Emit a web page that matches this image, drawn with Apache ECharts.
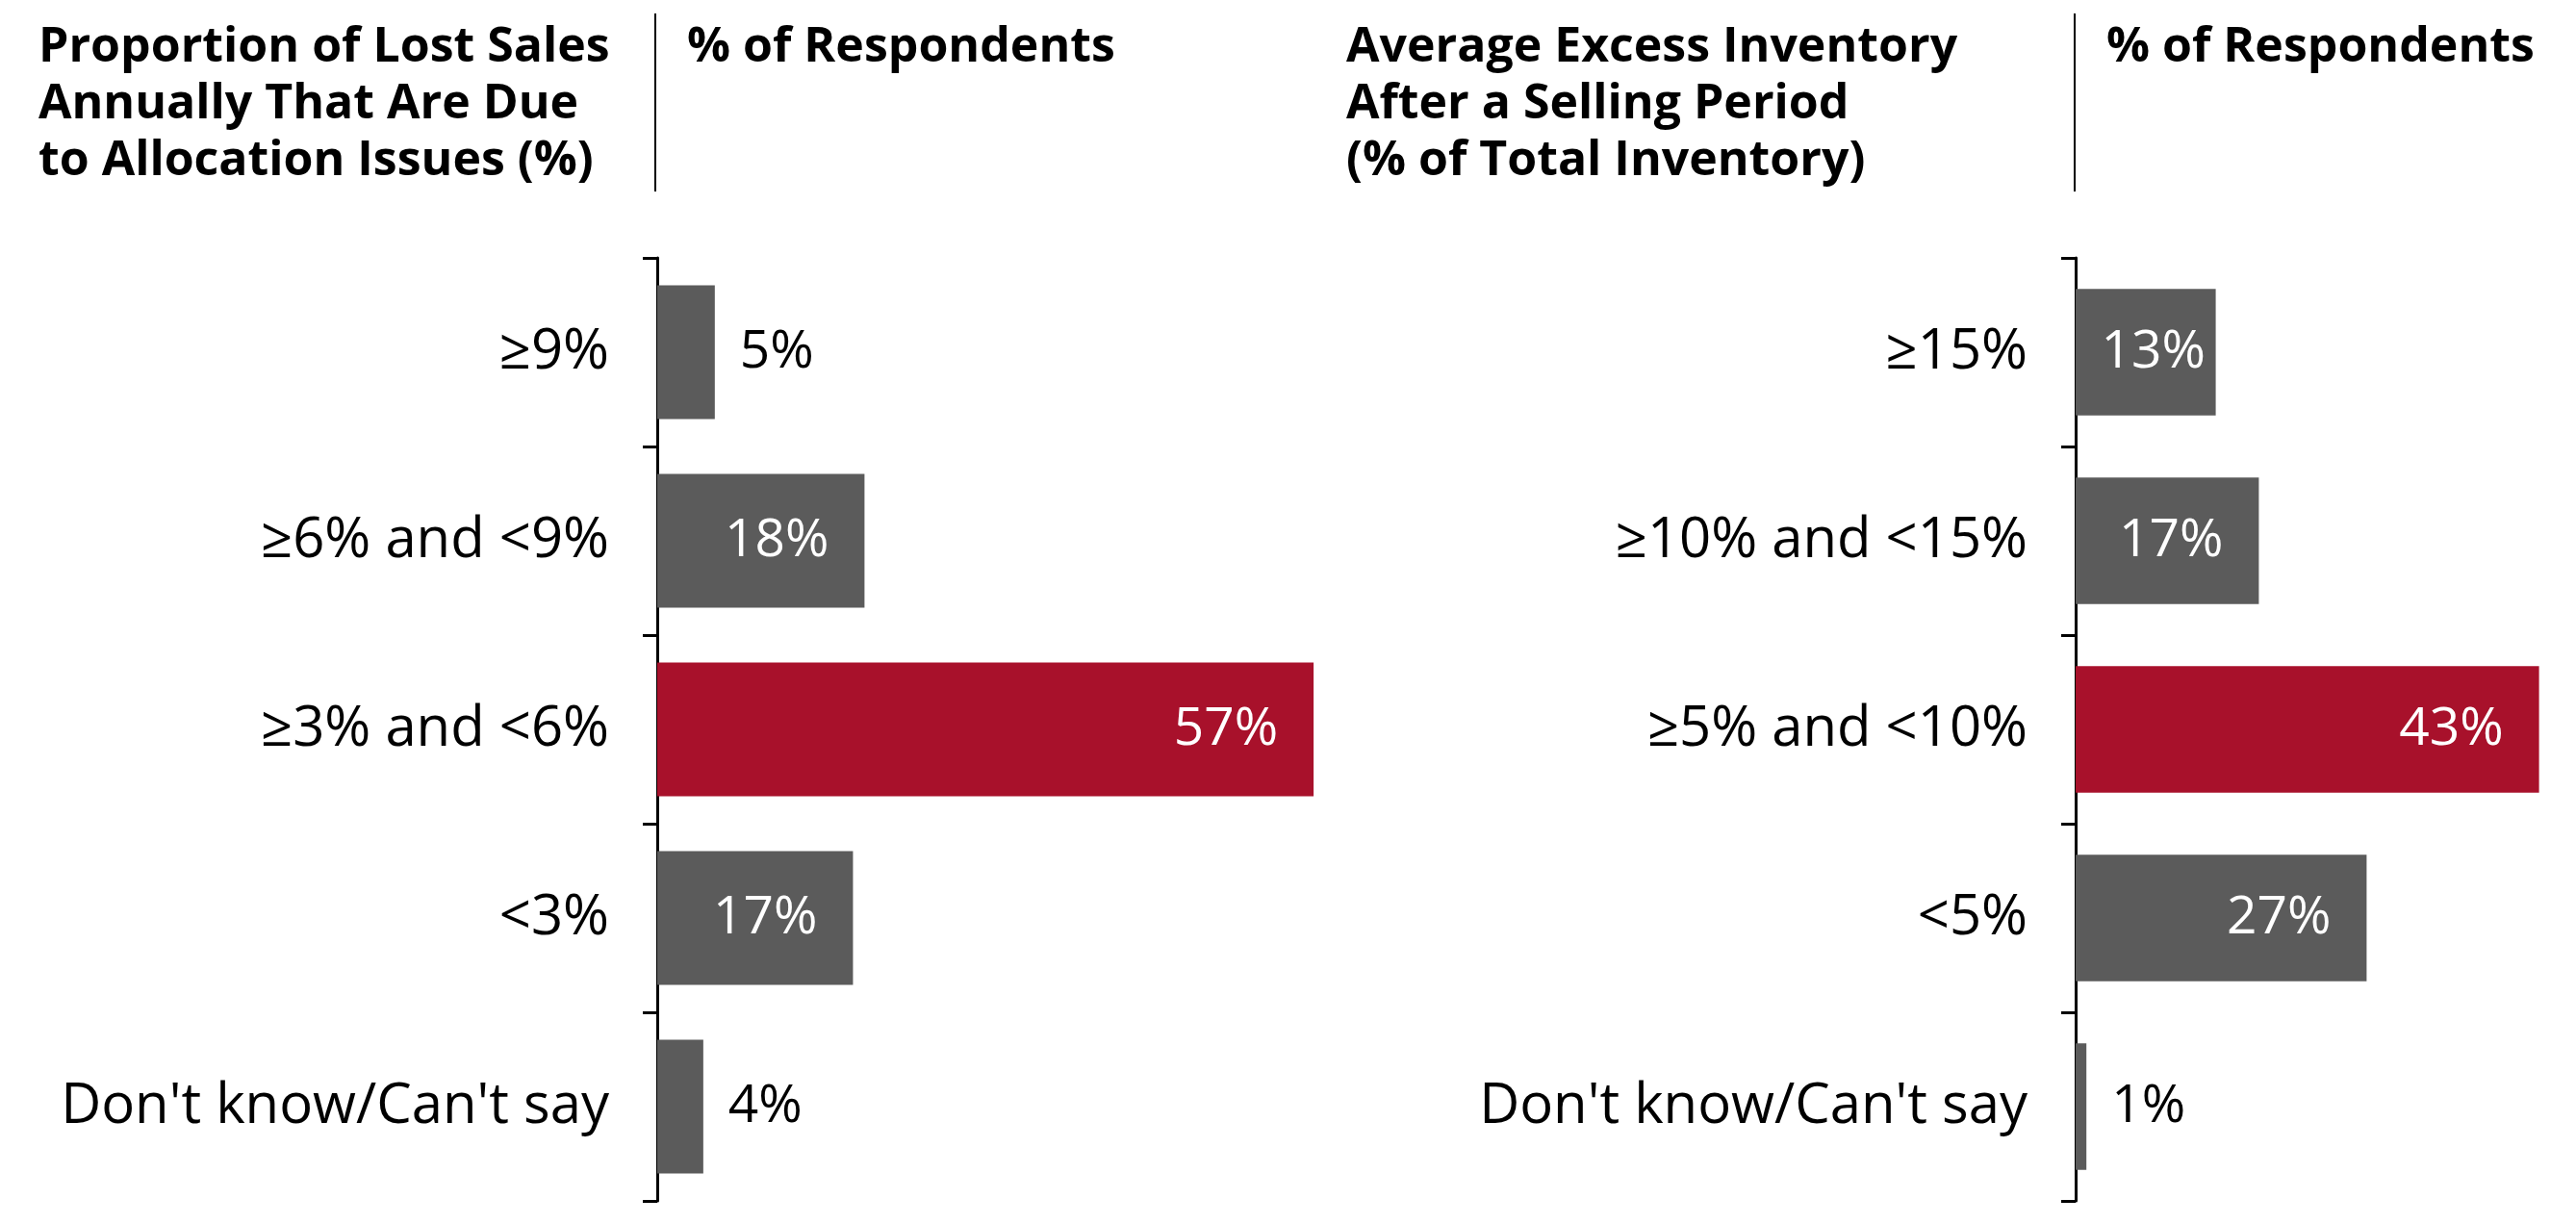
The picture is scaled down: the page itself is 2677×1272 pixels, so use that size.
<!DOCTYPE html>
<html>
<head>
<meta charset="utf-8">
<script src="https://cdn.jsdelivr.net/npm/echarts@6/dist/echarts.min.js"></script>
<style>
html,body{margin:0;padding:0;background:#fff;}
#chart{width:2677px;height:1272px;}
</style>
</head>
<body>
<div id="chart"></div>
<script>
// ---- Data ----
const leftTitle = 'Proportion of Lost Sales\nAnnually That Are Due\nto Allocation Issues (%)';
const rightTitle = 'Average Excess Inventory\nAfter a Selling Period\n(% of Total Inventory)';
const colHeader = '% of Respondents';
const leftCategories = ['≥9%', '≥6% and <9%', '≥3% and <6%', '<3%', "Don't know/Can't say"];
const leftValues = [5, 18, 57, 17, 4];
const rightCategories = ['≥15%', '≥10% and <15%', '≥5% and <10%', '<5%', "Don't know/Can't say"];
const rightValues = [13, 17, 43, 27, 1];

const GRAY = '#5b5b5b';
const RED = '#a8112b';
const FONT = '"Open Sans", "Noto Sans", sans-serif';
const LABEL_SIZE = 55;
const CAT_SIZE = 58;

function buildData(values) {
  const maxV = Math.max.apply(null, values);
  return values.map(function (v) {
    let label;
    if (v < 8) {
      label = { position: 'right', distance: 26, color: '#000' };
    } else if (v < 15) {
      label = { position: 'inside', color: '#fff', offset: [8, 0] };
    } else {
      label = { position: 'insideRight', distance: 37, color: '#fff' };
    }
    return {
      value: v,
      itemStyle: { color: v === maxV ? RED : GRAY },
      label: label
    };
  });
}

function yAxisFor(gridIndex, cats) {
  return {
    type: 'category',
    gridIndex: gridIndex,
    data: cats,
    inverse: true,
    axisLine: { show: true, lineStyle: { color: '#000', width: 3 } },
    axisTick: { show: true, length: 15, lineStyle: { color: '#000', width: 3 } },
    axisLabel: { margin: 50, color: '#000', fontSize: CAT_SIZE, fontFamily: FONT }
  };
}

const chart = echarts.init(document.getElementById('chart'), null, { renderer: 'canvas' });
const titleStyle = { fontSize: 50, fontWeight: 'bold', fontFamily: FONT, color: '#000', lineHeight: 59 };

chart.setOption({
  backgroundColor: '#fff',
  animation: false,
  title: [
    { text: leftTitle, left: 40, top: 20, padding: 0, textStyle: titleStyle },
    { text: colHeader, left: 714, top: 20, padding: 0, textStyle: titleStyle },
    { text: rightTitle, left: 1399, top: 20, padding: 0, textStyle: titleStyle },
    { text: colHeader, left: 2189, top: 20, padding: 0, textStyle: titleStyle }
  ],
  graphic: [
    { type: 'line', shape: { x1: 681, y1: 14, x2: 681, y2: 199 }, style: { stroke: '#000', lineWidth: 2 } },
    { type: 'line', shape: { x1: 2156, y1: 14, x2: 2156, y2: 199 }, style: { stroke: '#000', lineWidth: 2 } }
  ],
  grid: [
    { left: 683, top: 268, width: 718, height: 980 },
    { left: 2157, top: 268, width: 504, height: 980 }
  ],
  xAxis: [
    { type: 'value', gridIndex: 0, min: 0, max: 60, show: false },
    { type: 'value', gridIndex: 1, min: 0, max: 45, show: false }
  ],
  yAxis: [yAxisFor(0, leftCategories), yAxisFor(1, rightCategories)],
  series: [
    {
      type: 'bar', xAxisIndex: 0, yAxisIndex: 0, barWidth: '71%',
      data: buildData(leftValues),
      label: { show: true, formatter: '{c}%', fontSize: LABEL_SIZE, fontFamily: FONT }
    },
    {
      type: 'bar', xAxisIndex: 1, yAxisIndex: 1, barWidth: '67%',
      data: buildData(rightValues),
      label: { show: true, formatter: '{c}%', fontSize: LABEL_SIZE, fontFamily: FONT }
    }
  ]
});
</script>
</body>
</html>
